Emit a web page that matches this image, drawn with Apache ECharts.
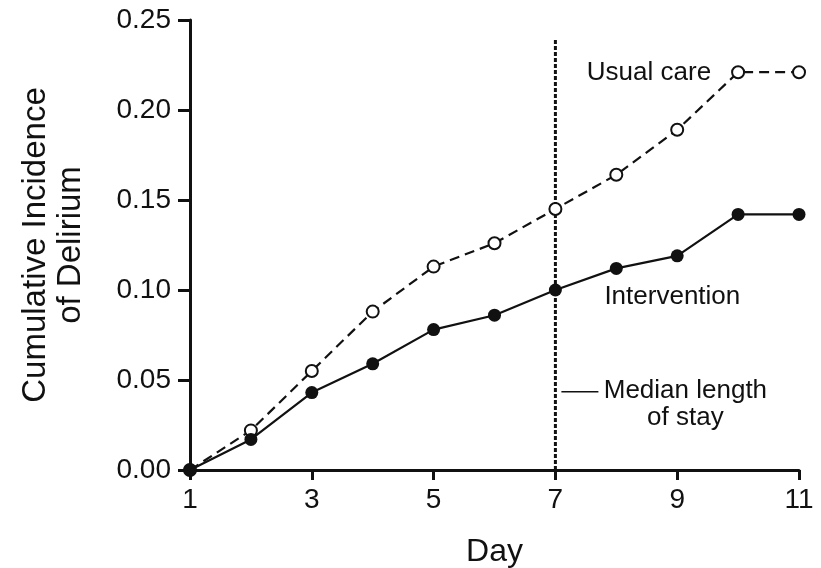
<!DOCTYPE html>
<html>
<head>
<meta charset="utf-8">
<script src="https://cdn.jsdelivr.net/npm/echarts@6/dist/echarts.min.js"></script>
<style>
  html, body { margin: 0; padding: 0; background: #fff; }
  #chart { width: 821px; height: 568px; }
</style>
</head>
<body>
<div id="chart"></div>
<script>
// data
var days = [1, 2, 3, 4, 5, 6, 7, 8, 9, 10, 11];
var usualCare = [0, 0.022, 0.055, 0.088, 0.113, 0.126, 0.145, 0.164, 0.189, 0.221, 0.221];
var intervention = [0, 0.017, 0.043, 0.059, 0.078, 0.086, 0.100, 0.112, 0.119, 0.142, 0.142];
var medianStay = 7;
var medianLineTop = 0.239;

var FONT = '"Liberation Sans", Arial, Helvetica, sans-serif';
var INK = '#111';

var chartDom = document.getElementById('chart');
var myChart = echarts.init(chartDom, null, { renderer: 'canvas' });
var option;

function pairs(xs, ys) {
    return xs.map(function (x, i) { return [x, ys[i]]; });
}

option = {
    animation: false,
    backgroundColor: '#fff',
    textStyle: { fontFamily: FONT, color: INK },
    grid: { left: 190, right: 22, top: 20, bottom: 98, containLabel: false, outerBoundsMode: 'none' },
    xAxis: {
        type: 'value',
        min: 1,
        max: 11,
        interval: 2,
        name: 'Day',
        nameLocation: 'middle',
        nameGap: 66,
        nameTextStyle: { fontSize: 32, color: INK, fontFamily: FONT },
        axisLine: { show: true, lineStyle: { color: INK, width: 3 } },
        axisTick: { show: true, length: 10, lineStyle: { color: INK, width: 3 } },
        axisLabel: { fontSize: 28, color: INK, margin: 16, fontFamily: FONT },
        splitLine: { show: false }
    },
    yAxis: {
        type: 'value',
        min: 0,
        max: 0.25,
        interval: 0.05,
        name: 'Cumulative Incidence\nof Delirium',
        nameLocation: 'middle',
        nameRotate: 90,
        nameGap: 102,
        nameTextStyle: { fontSize: 33, lineHeight: 35, color: INK, fontFamily: FONT },
        axisLine: { show: true, lineStyle: { color: INK, width: 3 } },
        axisTick: { show: true, length: 12, lineStyle: { color: INK, width: 3 } },
        axisLabel: {
            fontSize: 28, color: INK, margin: 19, fontFamily: FONT,
            formatter: function (v) { return v.toFixed(2); }
        },
        splitLine: { show: false }
    },
    series: [
        {
            name: 'Median length of stay',
            type: 'line',
            data: [[medianStay, 0], [medianStay, medianLineTop]],
            symbol: 'none',
            lineStyle: { color: INK, width: 3, type: [4, 2] },
            z: 1
        },
        {
            name: 'Usual care',
            type: 'line',
            data: pairs(days, usualCare),
            symbol: 'circle',
            symbolSize: 12,
            itemStyle: { color: '#fff', borderColor: INK, borderWidth: 2 },
            lineStyle: { color: INK, width: 2.2, type: [10, 6] },
            z: 3
        },
        {
            name: 'Intervention',
            type: 'line',
            data: pairs(days, intervention),
            symbol: 'circle',
            symbolSize: 13,
            itemStyle: { color: INK, borderColor: INK, borderWidth: 0 },
            lineStyle: { color: INK, width: 2.2 },
            z: 4
        }
    ]
};

option && myChart.setOption(option);

// annotations, anchored in data space
var p = function (x, y) { return myChart.convertToPixel({ gridIndex: 0 }, [x, y]); };
var ucAnchor = p(days[9], usualCare[9]);
var ivAnchor = p(8.92, 0.096);
var mdAnchor = p(medianStay, 0.044);

myChart.setOption({
    graphic: [
        {
            type: 'text', x: ucAnchor[0] - 27, y: ucAnchor[1] + 1,
            style: { text: 'Usual care', font: '26px ' + FONT, fill: INK, align: 'right', verticalAlign: 'middle' }
        },
        {
            type: 'text', x: ivAnchor[0], y: ivAnchor[1],
            style: { text: 'Intervention', font: '26px ' + FONT, fill: INK, align: 'center', verticalAlign: 'middle' }
        },
        {
            type: 'line',
            shape: { x1: mdAnchor[0] + 6, y1: mdAnchor[1] + 1, x2: mdAnchor[0] + 43, y2: mdAnchor[1] + 1 },
            style: { stroke: INK, lineWidth: 1.5 }
        },
        {
            type: 'text', x: mdAnchor[0] + 130, y: mdAnchor[1] + 14,
            style: {
                text: 'Median length\nof stay', font: '26px ' + FONT, lineHeight: 27,
                fill: INK, align: 'center', verticalAlign: 'middle'
            }
        }
    ]
});
</script>
</body>
</html>
